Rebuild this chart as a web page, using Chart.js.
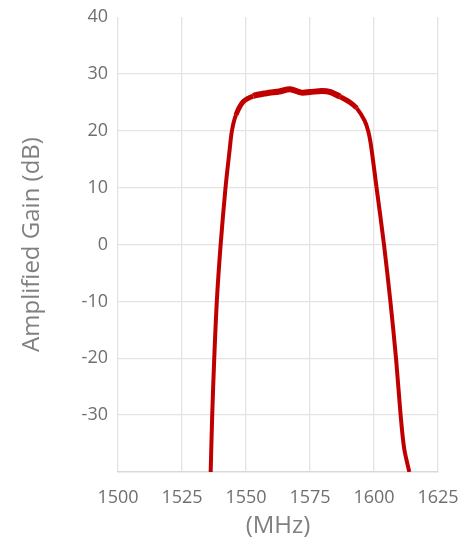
<!DOCTYPE html>
<html>
<head>
<meta charset="utf-8">
<script src="https://cdn.jsdelivr.net/npm/chart.js@4/dist/chart.umd.min.js"></script>
<style>
html,body{margin:0;padding:0;background:#fff;}
#wrap{width:459px;height:541px;position:relative;}
</style>
</head>
<body>
<div id="wrap"><canvas id="c" width="459" height="541"></canvas></div>
<script>
const freqMHz = [1536.2, 1536.8, 1537.6, 1538.6, 1540.1, 1542.0, 1543.6, 1544.5, 1546.1, 1548.9, 1552.8, 1558, 1563, 1567.2, 1571.7, 1575, 1579.6, 1583, 1586.7, 1590.6, 1593.2, 1596.3, 1597.7, 1598.7, 1601.0, 1603.9, 1606.4, 1608.6, 1610.4, 1611.8, 1613.8];
const gainDb  = [-40, -30, -20, -10, 0, 10, 16.6, 20, 22.8, 25.1, 26.1, 26.6, 26.9, 27.3, 26.7, 26.8, 27.0, 26.8, 26.0, 25.0, 24.0, 21.8, 20.0, 17.8, 10, 0, -10, -20, -30, -35.9, -40];
const xTicks = [1500, 1525, 1550, 1575, 1600, 1625];
const yTicks = [-40, -30, -20, -10, 0, 10, 20, 30, 40];

const points = freqMHz.map((f, i) => ({x: f, y: gainDb[i]}));
const grey = '#6f6f6f';
const font = 'Open Sans';

new Chart(document.getElementById('c'), {
  type: 'line',
  data: {
    datasets: [{
      data: points,
      borderColor: '#C00000',
      borderWidth: 4,
      pointRadius: 0,
      tension: 0.3,
      fill: false,
      segment: {
        borderWidth: ctx => {
          const a = ctx.p0.parsed.y, b = ctx.p1.parsed.y;
          const m = Math.min(a, b);
          if (m > 25.5) return 6;
          if (m > 22) return 5;
          return 4;
        }
      }
    }]
  },
  options: {
    responsive: false,
    animation: false,
    layout: {padding: {left: 18, top: 17, right: 21, bottom: 0}},
    plugins: {legend: {display: false}, tooltip: {enabled: false}},
    scales: {
      x: {
        type: 'linear',
        min: 1500, max: 1625,
        afterBuildTicks: s => { s.ticks = xTicks.map(v => ({value: v})); },
        afterFit: s => { s.height = 69; s.paddingLeft = 0; s.paddingRight = 0; },
        border: {display: true, color: '#d9d9d9', width: 1.5},
        grid: {color: '#e3e3e3', lineWidth: 1.3, drawTicks: false},
        ticks: {color: grey, font: {family: font, size: 18}, padding: 15, maxRotation: 0, autoSkip: false,
          callback: v => String(v)},
        title: {display: true, text: '(MHz)', color: '#808080', font: {family: font, size: 24}, padding: {top: 0, bottom: 0}}
      },
      y: {
        type: 'linear',
        min: -40, max: 40,
        afterBuildTicks: s => { s.ticks = yTicks.map(v => ({value: v})); },
        afterFit: s => { s.width = 100; s.paddingTop = 0; s.paddingBottom = 0; },
        border: {display: false},
        grid: {
          color: ctx => (ctx.tick && (ctx.tick.value === 40 || ctx.tick.value === -40)) ? 'rgba(0,0,0,0)' : '#e3e3e3',
          lineWidth: 1.3, drawTicks: false
        },
        ticks: {
          color: grey, font: {family: font, size: 18}, padding: 10,
          callback: v => (v === -40 ? '' : String(v))
        },
        title: {display: true, text: 'Amplified Gain (dB)', color: '#808080', font: {family: font, size: 24}, padding: {top: 0, bottom: 0}}
      }
    }
  }
});
</script>
</body>
</html>
